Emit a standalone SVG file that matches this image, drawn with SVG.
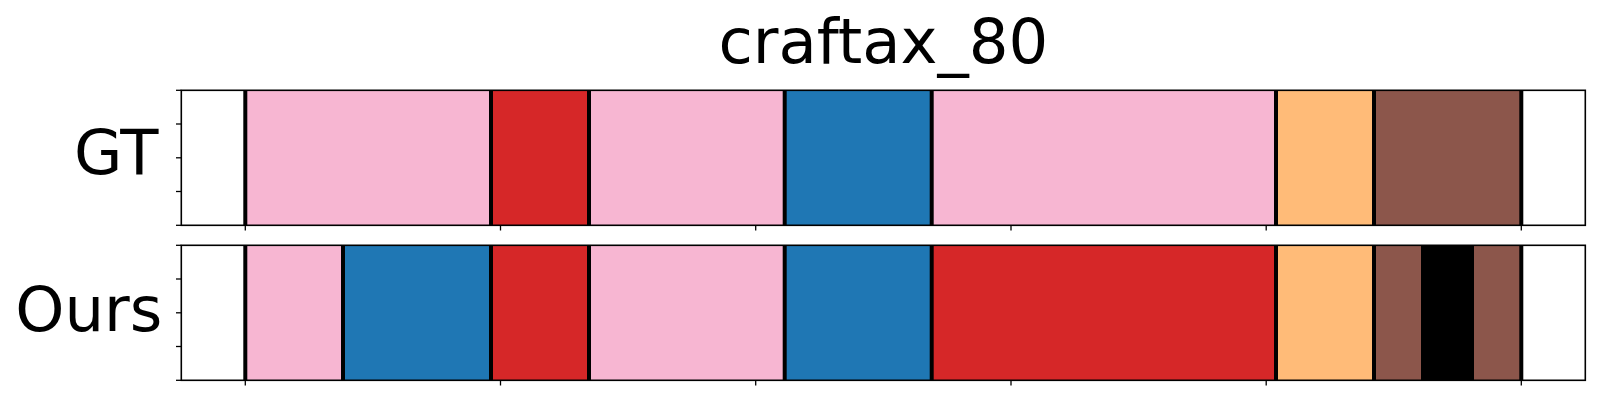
<svg xmlns="http://www.w3.org/2000/svg" width="1600" height="400" viewBox="0 0 1600 400">
<style>
.t{font-family:"DejaVu Sans","Liberation Sans",sans-serif;font-size:62.5px;fill:#000}
.pink{fill:#f7b6d2}.red{fill:#d62728}.blue{fill:#1f77b4}.orange{fill:#ffbb78}.brown{fill:#8c564b}.blk{fill:#000}
.b{stroke:#000;stroke-width:4}
.sp{fill:none;stroke:#000;stroke-width:1.6}
.tk{stroke:#000;stroke-width:1.3}
</style>
<rect width="1600" height="400" fill="#fff"/>
<text id="title" class="t" x="883.3" y="63" text-anchor="middle">craftax_80</text>
<g id="gt">
<text class="t" x="158.5" y="174.3" text-anchor="end">GT</text>
<rect class="pink" x="245.3" y="90.3" width="245.7" height="135"/>
<rect class="red" x="491" y="90.3" width="98" height="135"/>
<rect class="pink" x="589" y="90.3" width="195.7" height="135"/>
<rect class="blue" x="784.7" y="90.3" width="147" height="135"/>
<rect class="pink" x="931.7" y="90.3" width="344.3" height="135"/>
<rect class="orange" x="1276" y="90.3" width="98" height="135"/>
<rect class="brown" x="1374" y="90.3" width="147.3" height="135"/>
<g class="b">
<line x1="245.3" y1="90.3" x2="245.3" y2="225.3"/>
<line x1="491" y1="90.3" x2="491" y2="225.3"/>
<line x1="589" y1="90.3" x2="589" y2="225.3"/>
<line x1="784.7" y1="90.3" x2="784.7" y2="225.3"/>
<line x1="931.7" y1="90.3" x2="931.7" y2="225.3"/>
<line x1="1276" y1="90.3" x2="1276" y2="225.3"/>
<line x1="1374" y1="90.3" x2="1374" y2="225.3"/>
<line x1="1521.3" y1="90.3" x2="1521.3" y2="225.3"/>
</g>
<rect class="sp" x="181.3" y="90.3" width="1404" height="135"/>
<g class="tk">
<line x1="176" y1="90.3" x2="181.3" y2="90.3"/>
<line x1="176" y1="124" x2="181.3" y2="124"/>
<line x1="176" y1="157.8" x2="181.3" y2="157.8"/>
<line x1="176" y1="191.5" x2="181.3" y2="191.5"/>
<line x1="176" y1="225.3" x2="181.3" y2="225.3"/>
<line x1="245.3" y1="225.3" x2="245.3" y2="230.5"/>
<line x1="500.5" y1="225.3" x2="500.5" y2="230.5"/>
<line x1="755.7" y1="225.3" x2="755.7" y2="230.5"/>
<line x1="1011" y1="225.3" x2="1011" y2="230.5"/>
<line x1="1266.2" y1="225.3" x2="1266.2" y2="230.5"/>
<line x1="1521.3" y1="225.3" x2="1521.3" y2="230.5"/>
</g>
</g>
<g id="ours">
<text class="t" x="162.4" y="331" text-anchor="end">Ours</text>
<rect class="pink" x="245.3" y="245.3" width="97.7" height="135"/>
<rect class="blue" x="343" y="245.3" width="148" height="135"/>
<rect class="red" x="491" y="245.3" width="98" height="135"/>
<rect class="pink" x="589" y="245.3" width="195.7" height="135"/>
<rect class="blue" x="784.7" y="245.3" width="147" height="135"/>
<rect class="red" x="931.7" y="245.3" width="344.3" height="135"/>
<rect class="orange" x="1276" y="245.3" width="98" height="135"/>
<rect class="brown" x="1374" y="245.3" width="47" height="135"/>
<rect class="blk" x="1421" y="245.3" width="53" height="135"/>
<rect class="brown" x="1474" y="245.3" width="47.3" height="135"/>
<g class="b">
<line x1="245.3" y1="245.3" x2="245.3" y2="380.3"/>
<line x1="343" y1="245.3" x2="343" y2="380.3"/>
<line x1="491" y1="245.3" x2="491" y2="380.3"/>
<line x1="589" y1="245.3" x2="589" y2="380.3"/>
<line x1="784.7" y1="245.3" x2="784.7" y2="380.3"/>
<line x1="931.7" y1="245.3" x2="931.7" y2="380.3"/>
<line x1="1276" y1="245.3" x2="1276" y2="380.3"/>
<line x1="1374" y1="245.3" x2="1374" y2="380.3"/>
<line x1="1521.3" y1="245.3" x2="1521.3" y2="380.3"/>
</g>
<rect class="sp" x="181.3" y="245.3" width="1404" height="135"/>
<g class="tk">
<line x1="176" y1="245.3" x2="181.3" y2="245.3"/>
<line x1="176" y1="279" x2="181.3" y2="279"/>
<line x1="176" y1="312.8" x2="181.3" y2="312.8"/>
<line x1="176" y1="346.5" x2="181.3" y2="346.5"/>
<line x1="176" y1="380.3" x2="181.3" y2="380.3"/>
<line x1="245.3" y1="380.3" x2="245.3" y2="385.5"/>
<line x1="500.5" y1="380.3" x2="500.5" y2="385.5"/>
<line x1="755.7" y1="380.3" x2="755.7" y2="385.5"/>
<line x1="1011" y1="380.3" x2="1011" y2="385.5"/>
<line x1="1266.2" y1="380.3" x2="1266.2" y2="385.5"/>
<line x1="1521.3" y1="380.3" x2="1521.3" y2="385.5"/>
</g>
</g>
</svg>
